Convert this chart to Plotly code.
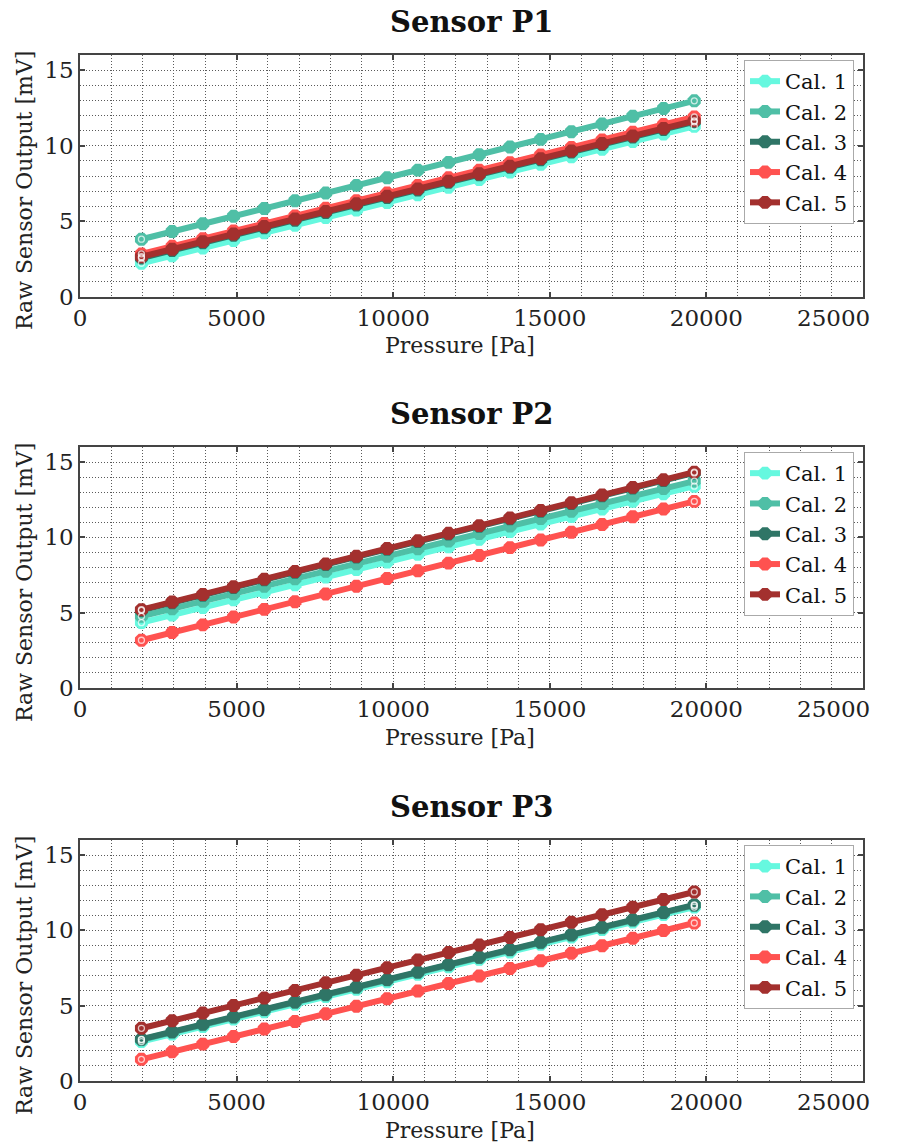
import plotly.graph_objects as go

pressure = [1961, 2942, 3923, 4903, 5883, 6864, 7845, 8825, 9806, 10787,
            11767, 12748, 13729, 14709, 15690, 16671, 17651, 18632, 19613]

series_names = ["Cal. 1", "Cal. 2", "Cal. 3", "Cal. 4", "Cal. 5"]
colors = ["#66f8df", "#4fbfa6", "#2f7566", "#ff5250", "#a3302e"]

x_tick_vals = [0, 5000, 10000, 15000, 20000, 25000]
x_tick_text = ["0", "5000", "10000", "15000", "20000", ""]
x_last_tick_val = 25000
x_last_tick_text = "25000"
y_tick_vals = [0, 5, 10, 15]
y_tick_text = ["0", "5", "10", "15"]

x_title = "Pressure [Pa]"
y_title = "Raw Sensor Output [mV]"

p1_cal1 = [2.23, 2.73, 3.24, 3.74, 4.24, 4.74, 5.25, 5.75, 6.25, 6.76, 7.26, 7.76, 8.26, 8.77, 9.27, 9.77, 10.28, 10.78, 11.28]
p1_cal2 = [3.82, 4.33, 4.84, 5.34, 5.85, 6.36, 6.87, 7.38, 7.88, 8.39, 8.90, 9.41, 9.92, 10.42, 10.93, 11.44, 11.95, 12.46, 12.97]
p1_cal3 = [2.58, 3.08, 3.58, 4.08, 4.58, 5.08, 5.58, 6.08, 6.58, 7.08, 7.58, 8.08, 8.58, 9.08, 9.58, 10.08, 10.58, 11.08, 11.58]
p1_cal4 = [2.85, 3.35, 3.86, 4.36, 4.86, 5.36, 5.87, 6.37, 6.87, 7.38, 7.88, 8.38, 8.88, 9.39, 9.89, 10.39, 10.89, 11.40, 11.90]
p1_cal5 = [2.66, 3.16, 3.66, 4.16, 4.66, 5.16, 5.66, 6.16, 6.66, 7.15, 7.65, 8.15, 8.65, 9.15, 9.65, 10.15, 10.65, 11.15, 11.65]

p2_cal1 = [4.34, 4.84, 5.35, 5.85, 6.35, 6.86, 7.36, 7.86, 8.37, 8.87, 9.37, 9.88, 10.38, 10.88, 11.39, 11.89, 12.39, 12.90, 13.40]
p2_cal2 = [4.76, 5.26, 5.76, 6.26, 6.76, 7.25, 7.75, 8.25, 8.75, 9.25, 9.75, 10.25, 10.75, 11.25, 11.74, 12.24, 12.74, 13.24, 13.74]
p2_cal3 = [5.15, 5.66, 6.16, 6.67, 7.18, 7.69, 8.19, 8.70, 9.21, 9.72, 10.22, 10.73, 11.24, 11.74, 12.25, 12.76, 13.27, 13.77, 14.28]
p2_cal4 = [3.17, 3.68, 4.19, 4.71, 5.22, 5.73, 6.24, 6.76, 7.27, 7.78, 8.29, 8.80, 9.32, 9.83, 10.34, 10.85, 11.37, 11.88, 12.39]
p2_cal5 = [5.20, 5.71, 6.21, 6.72, 7.23, 7.74, 8.24, 8.75, 9.26, 9.77, 10.27, 10.78, 11.29, 11.79, 12.30, 12.81, 13.32, 13.82, 14.33]

p3_cal1 = [2.62, 3.12, 3.61, 4.11, 4.60, 5.10, 5.60, 6.09, 6.59, 7.08, 7.58, 8.08, 8.57, 9.07, 9.56, 10.06, 10.56, 11.05, 11.55]
p3_cal2 = [2.74, 3.24, 3.73, 4.23, 4.72, 5.22, 5.71, 6.21, 6.70, 7.20, 7.70, 8.19, 8.69, 9.18, 9.68, 10.17, 10.67, 11.16, 11.66]
p3_cal3 = [2.77, 3.27, 3.76, 4.26, 4.75, 5.25, 5.74, 6.24, 6.73, 7.23, 7.73, 8.22, 8.72, 9.21, 9.71, 10.20, 10.70, 11.19, 11.69]
p3_cal4 = [1.44, 1.94, 2.45, 2.95, 3.45, 3.95, 4.46, 4.96, 5.46, 5.97, 6.47, 6.97, 7.47, 7.98, 8.48, 8.98, 9.48, 9.99, 10.49]
p3_cal5 = [3.50, 4.00, 4.51, 5.01, 5.51, 6.01, 6.52, 7.02, 7.52, 8.03, 8.53, 9.03, 9.53, 10.04, 10.54, 11.04, 11.54, 12.05, 12.55]

sensors = [
    ("Sensor P1", [p1_cal1, p1_cal2, p1_cal3, p1_cal4, p1_cal5]),
    ("Sensor P2", [p2_cal1, p2_cal2, p2_cal3, p2_cal4, p2_cal5]),
    ("Sensor P3", [p3_cal1, p3_cal2, p3_cal3, p3_cal4, p3_cal5]),
]

W, H = 905, 1144
boxes = [(55, 297), (447, 688), (840, 1081)]
x_left, x_right = 80, 863

FONT = "DejaVu Serif, serif"
TXT = "#222222"
fig = go.Figure()

for i, (title, data) in enumerate(sensors):
    n = "" if i == 0 else str(i + 1)
    xa, ya = "x" + n, "y" + n
    leg = "legend" + n
    for name, vals, col in zip(series_names, data, colors):
        fig.add_trace(go.Scatter(
            x=pressure, y=vals, mode="lines+markers", name=name,
            line=dict(color=col, width=6),
            marker=dict(symbol="octagon", size=14, color=col, line=dict(width=0)),
            xaxis=xa, yaxis=ya, legend=leg, showlegend=True,
        ))
    for name, vals, col in zip(series_names, data, colors):
        fig.add_trace(go.Scatter(
            x=[pressure[0], pressure[-1]], y=[vals[0], vals[-1]], mode="markers",
            marker=dict(symbol="circle-open", size=6, color="rgba(255,255,255,0.7)",
                        line=dict(width=1.3, color="rgba(255,255,255,0.7)")),
            xaxis=xa, yaxis=ya, showlegend=False, hoverinfo="skip",
        ))
    top, bot = boxes[i]
    ydom = [1 - bot / H, 1 - top / H]
    grid = dict(showgrid=True, gridcolor="#5a5a5a", gridwidth=1, griddash="1px,2px")
    fig.layout["xaxis" + n] = dict(
        domain=[x_left / W, x_right / W], range=[0, 25000], anchor=ya, automargin=False,
        tickmode="array", tickvals=x_tick_vals, ticktext=x_tick_text,
        ticks="inside", ticklen=5, tickcolor="#444", tickwidth=1.5,
        showline=True, linecolor="#444", linewidth=1.5, mirror="ticks",
        zeroline=False, tickfont=dict(family=FONT, size=23, color=TXT),
        minor=dict(dtick=1000, tick0=0, **grid), **grid,
    )
    fig.layout["yaxis" + n] = dict(
        domain=ydom, range=[0, 16], anchor=xa, automargin=False,
        tickmode="array", tickvals=y_tick_vals, ticktext=y_tick_text,
        ticks="inside", ticklen=5, tickcolor="#444", tickwidth=1.5,
        showline=True, linecolor="#444", linewidth=1.5, mirror="ticks",
        zeroline=False, tickfont=dict(family=FONT, size=23, color=TXT),
        minor=dict(dtick=1, tick0=0, **grid), **grid,
    )
    fig.layout[leg] = dict(
        x=744 / W, y=1 - (top + 5) / H, xanchor="left", yanchor="top",
        bgcolor="white", bordercolor="#aaaaaa", borderwidth=1,
        font=dict(family=FONT, size=21, color="#111"), itemwidth=30,
        tracegroupgap=0,
    )
    # last x tick label, kept inside the figure as in the reference
    fig.add_annotation(
        text=x_last_tick_text, x=x_last_tick_val, xref=xa, y=0, yref=ya + " domain",
        xanchor="right", yanchor="middle", xshift=9, yshift=-21, showarrow=False,
        font=dict(family=FONT, size=23, color=TXT),
    )
    fig.add_annotation(
        text="<b>" + title + "</b>", x=(x_left + x_right) / 2 / W, y=1 - (top - 33) / H,
        xref="paper", yref="paper", showarrow=False, xanchor="center", yanchor="middle",
        font=dict(family=FONT, size=29, color="#111"),
    )
    fig.add_annotation(
        text=x_title, x=460 / W, y=1 - (top + 290) / H,
        xref="paper", yref="paper", showarrow=False, xanchor="center", yanchor="middle",
        font=dict(family=FONT, size=22, color=TXT),
    )
    fig.add_annotation(
        text=y_title, x=24 / W, y=1 - (top + 136) / H, textangle=-90,
        xref="paper", yref="paper", showarrow=False, xanchor="center", yanchor="middle",
        font=dict(family=FONT, size=22, color=TXT),
    )

fig.update_layout(
    width=W, height=H, margin=dict(l=0, r=0, t=0, b=0, autoexpand=False),
    paper_bgcolor="white", plot_bgcolor="white",
)

fig.write_html("out.html", post_script="document.body.style.margin='0';document.body.style.overflow='hidden';")
